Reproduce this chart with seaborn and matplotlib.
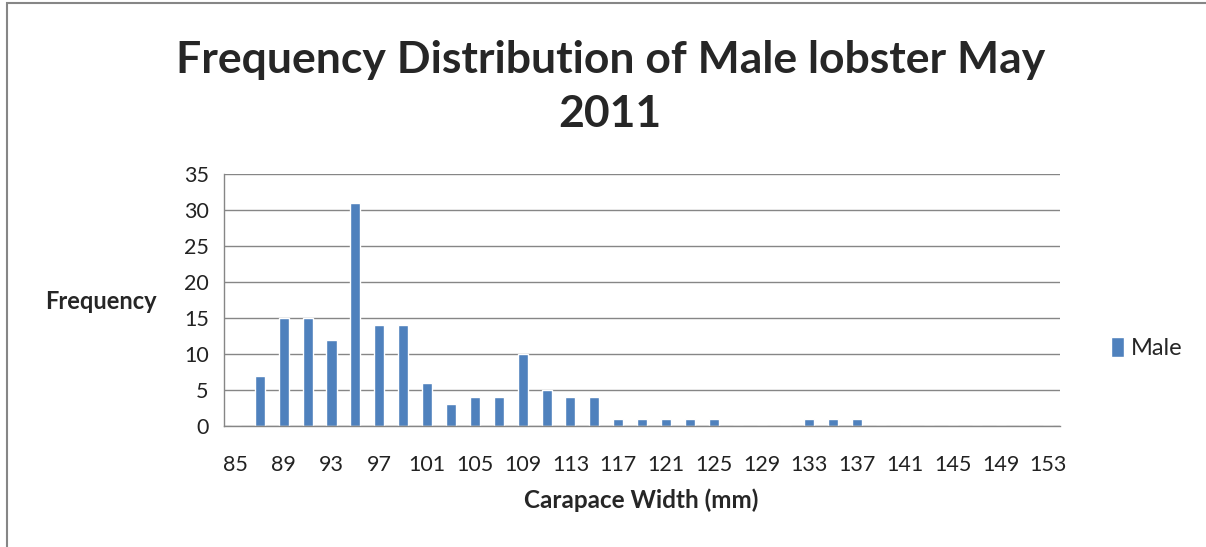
import matplotlib
matplotlib.use("Agg")
import matplotlib.pyplot as plt
import seaborn as sns
import numpy as np
import pandas as pd
from matplotlib.patches import Rectangle

# carapace width bins (mm) and male counts
widths = list(range(85, 155, 2))
male = [0, 7, 15, 15, 12, 31, 14, 14, 6, 3, 4, 4, 10, 5, 4, 4, 1, 1, 1, 1, 1,
        0, 0, 0, 1, 1, 1, 0, 0, 0, 0, 0, 0, 0, 0]
yticks = [0, 5, 10, 15, 20, 25, 30, 35]

df = pd.DataFrame({"width": [str(w) for w in widths], "freq": male})

sns.set_style("white")
plt.rcParams['font.family'] = ['Lato', 'DejaVu Sans']

fig = plt.figure(figsize=(12.06, 5.47), dpi=100)
ax = fig.add_axes([0.1857, 0.2212, 0.6935, 0.4605])

sns.barplot(data=df, x="width", y="freq", color="#4F81BD", width=0.42,
            saturation=1, label="Male", ax=ax)

n = len(widths)
ax.set_xlim(-0.5, n - 0.5)
ax.set_ylim(0, 35)
ax.set_yticks(yticks)
ax.set_yticklabels([str(t) for t in yticks], fontsize=15.5, color="#222222")
ax.set_xticks(range(0, n, 2))
ax.set_xticklabels([str(w) for w in widths[::2]], fontsize=15.5, color="#222222")
ax.set_xticks(np.arange(-0.5, n, 1), minor=True)
ax.tick_params(axis="x", which="major", length=0, pad=21)
ax.tick_params(axis="x", which="minor", length=6, width=1, color="#868686", direction="out")
ax.tick_params(axis="y", length=6, width=1, color="#868686", direction="out", pad=5)
ax.yaxis.grid(True, color="#868686", linewidth=1)
ax.set_axisbelow(True)
for s in ["top", "right"]:
    ax.spines[s].set_visible(False)
for s in ["left", "bottom"]:
    ax.spines[s].set_color("#868686")
    ax.spines[s].set_linewidth(1)

ax.set_xlabel("")
ax.set_ylabel("")
fig.text(0.084, 0.448, "Frequency", fontsize=17, fontweight="bold", ha="center", va="center")
fig.text(0.532, 0.085, "Carapace Width (mm)", fontsize=17.5, fontweight="bold", ha="center", va="center")
fig.text(0.506, 0.841, "Frequency Distribution of Male lobster May\n2011", fontsize=32,
         fontweight="bold", ha="center", va="center", linespacing=1.4)

leg = ax.legend(loc="center left", bbox_to_anchor=(1.035, 0.31), frameon=False,
                fontsize=17, handlelength=0.55, handleheight=0.9, handletextpad=0.3)

# chart frame: only left and top edges are inside the picture
fig.patches.append(Rectangle((0.006, -0.1), 1.1, 1.094, transform=fig.transFigure,
                             fill=False, edgecolor="#868686", linewidth=1.5))

fig.savefig("out.png", dpi=100)
